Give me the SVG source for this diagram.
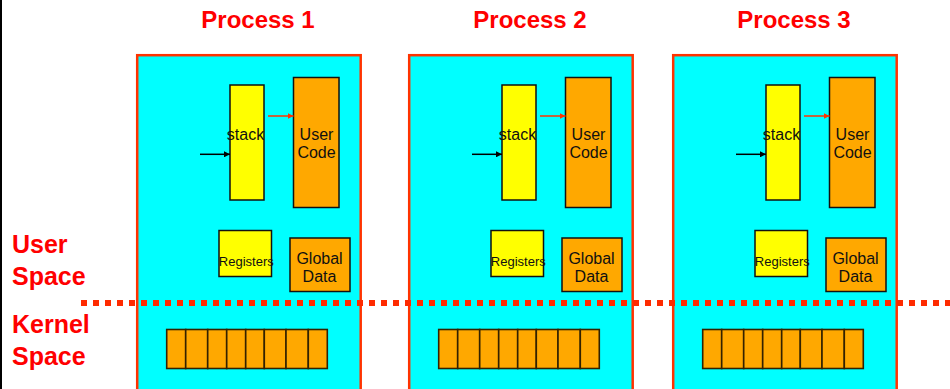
<svg xmlns="http://www.w3.org/2000/svg" width="950" height="389" viewBox="0 0 950 389">
  <style>
    .proc { fill: #00ffff; stroke: #ff3300; stroke-width: 2.5; }
    .title { font-family: "Liberation Sans", Arial, sans-serif; font-weight: bold; font-size: 24px; fill: #ff0000; text-anchor: middle; }
    .side { font-family: "Liberation Sans", Arial, sans-serif; font-weight: bold; font-size: 25px; fill: #ff0000; }
    .yel { fill: #ffff00; stroke: #111; stroke-width: 1.5; }
    .org { fill: #ffa800; stroke: #111; stroke-width: 1.5; }
    .cell { fill: #ffa800; stroke: #332200; stroke-width: 1.6; }
    .lbl { font-family: "Liberation Sans", Arial, sans-serif; font-size: 16px; fill: #111; text-anchor: middle; }
    .small { font-size: 13px; }
    .blk { stroke: #000; stroke-width: 1.5; fill: none; }
    .red { stroke: #ff3300; stroke-width: 1.5; fill: none; }
    .split { stroke: #ff2a00; stroke-width: 6; stroke-dasharray: 6 6; fill: none; }
  </style>
  <defs>
    <marker id="headBlack" viewBox="0 0 6 6" refX="6" refY="3" markerWidth="4" markerHeight="4" orient="auto" markerUnits="strokeWidth">
      <path d="M0,0 L6,3 L0,6 z" fill="#000"/>
    </marker>
    <marker id="headRed" viewBox="0 0 6 6" refX="6" refY="3" markerWidth="4" markerHeight="4" orient="auto" markerUnits="strokeWidth">
      <path d="M0,0 L6,3 L0,6 z" fill="#ff3300"/>
    </marker>
    <!-- kernel-side array of eight cells -->
    <g id="kstack">
      <rect class="cell" x="166.7" y="329.5" width="19" height="39"/>
      <rect class="cell" x="185.7" y="329.5" width="22" height="39"/>
      <rect class="cell" x="207.7" y="329.5" width="19" height="39"/>
      <rect class="cell" x="226.7" y="329.5" width="19" height="39"/>
      <rect class="cell" x="245.7" y="329.5" width="18.6" height="39"/>
      <rect class="cell" x="264.3" y="329.5" width="21.7" height="39"/>
      <rect class="cell" x="286" y="329.5" width="22.3" height="39"/>
      <rect class="cell" x="308.3" y="329.5" width="19" height="39"/>
    </g>
  </defs>

  <rect x="0" y="0" width="950" height="389" fill="#ffffff"/>
  <line x1="1" y1="0" x2="1" y2="389" stroke="#000" stroke-width="2"/>

  <!-- side labels -->
  <g id="user-space">
    <text class="side" x="12" y="253">User</text>
    <text class="side" x="12" y="285">Space</text>
  </g>
  <g id="kernel-space">
    <text class="side" x="12" y="333">Kernel</text>
    <text class="side" x="12" y="365">Space</text>
  </g>

  <!-- Process 1 -->
  <g id="process1">
    <text class="title" x="258" y="28">Process 1</text>
    <rect class="proc" x="137.2" y="55.2" width="223.5" height="345"/>
    <g id="p1-stack"><rect class="yel" x="230" y="85" width="34" height="115"/><text class="lbl" x="245.5" y="140">stack</text></g>
    <g id="p1-code"><rect class="org" x="293.5" y="77.5" width="45.5" height="130"/><text class="lbl" x="316.5" y="140">User</text><text class="lbl" x="316.5" y="158">Code</text></g>
    <g id="p1-regs"><rect class="yel" x="219" y="230.5" width="52.5" height="46"/><text class="lbl small" x="246.3" y="265.5">Registers</text></g>
    <g id="p1-data"><rect class="org" x="290" y="238" width="60" height="53.5"/><text class="lbl" x="319.5" y="264">Global</text><text class="lbl" x="319.5" y="282">Data</text></g>
    <g id="p1-kernel"><use href="#kstack"/></g>
  </g>

  <!-- Process 2 -->
  <g id="process2" transform="translate(272,0)">
    <text class="title" x="258" y="28">Process 2</text>
    <rect class="proc" x="137.2" y="55.2" width="223.5" height="345"/>
    <g id="p2-stack"><rect class="yel" x="230" y="85" width="34" height="115"/><text class="lbl" x="245.5" y="140">stack</text></g>
    <g id="p2-code"><rect class="org" x="293.5" y="77.5" width="45.5" height="130"/><text class="lbl" x="316.5" y="140">User</text><text class="lbl" x="316.5" y="158">Code</text></g>
    <g id="p2-regs"><rect class="yel" x="219" y="230.5" width="52.5" height="46"/><text class="lbl small" x="246.3" y="265.5">Registers</text></g>
    <g id="p2-data"><rect class="org" x="290" y="238" width="60" height="53.5"/><text class="lbl" x="319.5" y="264">Global</text><text class="lbl" x="319.5" y="282">Data</text></g>
    <g id="p2-kernel"><use href="#kstack"/></g>
  </g>

  <!-- Process 3 -->
  <g id="process3" transform="translate(536,0)">
    <text class="title" x="258" y="28">Process 3</text>
    <rect class="proc" x="137.2" y="55.2" width="223.5" height="345"/>
    <g id="p3-stack"><rect class="yel" x="230" y="85" width="34" height="115"/><text class="lbl" x="245.5" y="140">stack</text></g>
    <g id="p3-code"><rect class="org" x="293.5" y="77.5" width="45.5" height="130"/><text class="lbl" x="316.5" y="140">User</text><text class="lbl" x="316.5" y="158">Code</text></g>
    <g id="p3-regs"><rect class="yel" x="219" y="230.5" width="52.5" height="46"/><text class="lbl small" x="246.3" y="265.5">Registers</text></g>
    <g id="p3-data"><rect class="org" x="290" y="238" width="60" height="53.5"/><text class="lbl" x="319.5" y="264">Global</text><text class="lbl" x="319.5" y="282">Data</text></g>
    <g id="p3-kernel"><use href="#kstack"/></g>
  </g>

  <!-- connectors: stack pointer and program counter arrows -->
  <g id="connectors">
    <line class="blk" x1="200" y1="154.3" x2="230" y2="154.3" marker-end="url(#headBlack)"/>
    <line class="red" x1="268" y1="116" x2="293.5" y2="116" marker-end="url(#headRed)"/>
    <line class="blk" x1="472" y1="154.3" x2="502" y2="154.3" marker-end="url(#headBlack)"/>
    <line class="red" x1="540" y1="116" x2="565.5" y2="116" marker-end="url(#headRed)"/>
    <line class="blk" x1="736" y1="154.3" x2="766" y2="154.3" marker-end="url(#headBlack)"/>
    <line class="red" x1="804" y1="116" x2="829.5" y2="116" marker-end="url(#headRed)"/>
  </g>

  <!-- user / kernel boundary -->
  <line class="split" x1="81" y1="303" x2="950" y2="303"/>
</svg>
